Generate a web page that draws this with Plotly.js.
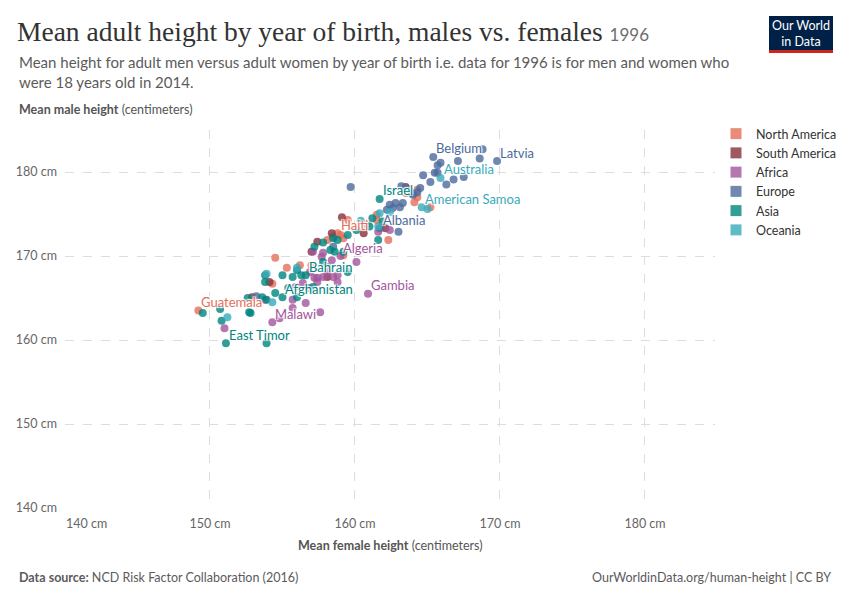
<!DOCTYPE html>
<html>
<head>
<meta charset="utf-8">
<script src="https://cdn.plot.ly/plotly-3.0.1.min.js"></script>
<style>
html, body { margin: 0; padding: 0; background: #fff; }
#chart { width: 850px; height: 600px; }
</style>
</head>
<body>
<div id="chart"></div>
<script>
const continents = ['North America', 'South America', 'Africa', 'Europe', 'Asia', 'Oceania'];
const continentColors = ['#e56e5a', '#883039', '#a2559c', '#4c6a9c', '#00847e', '#38aaba'];

// unlabelled countries: mean female / male height (cm), born 1996
const naFemale = [154.5, 155.3, 157.0, 154.3, 156.2, 158.1, 158.5, 159.0, 159.2, 159.5, 160.8, 161.5, 161.5, 162.3, 163.5, 164.3, 164.1, 165.2, 159.2, 164.3];
const naMale   = [169.8, 168.6, 168.9, 166.7, 168.9, 171.9, 172.3, 172.5, 172.1, 174.3, 173.7, 174.3, 174.9, 171.9, 177.5, 177.0, 176.4, 175.8, 170.1, 177.9];

const saFemale = [154.1, 152.9, 157.4, 157.0, 158.4, 159.1, 160.6, 158.1, 162.1, 163.5];
const saMale   = [166.9, 165.1, 171.7, 170.5, 172.7, 174.6, 172.7, 167.5, 173.3, 178.2];

const afFemale = [160.1, 157.8, 157.4, 158.8, 158.1, 157.4, 158.8, 155.7, 156.6, 157.6, 154.8, 153.8, 151.0, 156.8, 155.7, 157.1, 157.7, 158.4, 158.1, 157.2, 157.8, 158.5, 162.4, 161.6, 156.4, 156.9, 155.9];
const afMale   = [169.3, 170.4, 167.4, 167.7, 168.0, 166.9, 166.9, 164.8, 164.4, 163.3, 162.6, 164.8, 161.4, 166.2, 163.8, 170.5, 169.9, 169.5, 168.7, 167.4, 167.5, 167.5, 173.1, 172.9, 166.8, 168.1, 166.3];

const euFemale = [159.7, 168.6, 167.1, 168.8, 165.7, 165.9, 165.5, 164.7, 165.2, 166.3, 166.8, 167.5, 164.5, 164.3, 164.0, 163.2, 163.6, 162.8, 162.4, 163.3, 163.1, 162.2, 162.6, 163.0, 153.2, 158.5, 165.7, 163.9];
const euMale   = [178.2, 181.6, 181.3, 182.7, 180.8, 181.1, 179.9, 179.6, 178.8, 178.5, 179.1, 179.4, 178.1, 177.6, 177.3, 178.3, 178.0, 176.3, 176.1, 176.3, 175.8, 175.5, 175.7, 172.9, 165.2, 171.1, 179.9, 177.5];

const asFemale = [153.8, 153.8, 154.5, 153.6, 152.6, 152.7, 150.7, 149.5, 150.8, 153.9, 155.0, 155.7, 156.3, 157.2, 156.0, 155.4, 156.0, 157.1, 157.8, 157.8, 158.3, 158.6, 159.2, 158.8, 159.5, 160.1, 161.0, 161.6, 161.2, 161.9, 159.5, 153.9, 158.5, 152.8];
const asMale   = [166.9, 167.7, 165.6, 165.1, 165.0, 163.3, 163.7, 163.2, 162.3, 159.6, 167.7, 167.5, 167.7, 171.1, 165.1, 166.2, 168.3, 166.3, 169.3, 171.6, 170.7, 170.5, 170.5, 171.9, 172.5, 173.1, 173.5, 171.9, 174.5, 174.1, 168.1, 164.8, 172.1, 163.2];

const ocFemale = [153.9, 156.0, 154.3, 151.2, 160.4, 161.6, 161.7, 162.4, 165.0];
const ocMale   = [167.9, 168.6, 164.5, 162.7, 174.2, 173.5, 175.1, 175.2, 175.6];

// labelled countries
const labelNames      = ['Latvia', 'Belgium', 'Australia', 'American Samoa', 'Israel', 'Albania', 'Haiti', 'Algeria', 'Bahrain', 'Afghanistan', 'Gambia', 'Malawi', 'Guatemala', 'East Timor'];
const labelContinents = ['Europe', 'Europe', 'Oceania', 'Oceania', 'Asia', 'Europe', 'North America', 'Africa', 'Asia', 'Asia', 'Africa', 'Africa', 'North America', 'Asia'];
const labelFemale     = [169.8, 165.4, 165.9, 164.6, 161.7, 161.7, 158.8, 159.0, 156.6, 155.0, 160.9, 154.3, 149.2, 151.1];
const labelMale       = [181.3, 181.8, 179.3, 175.8, 176.8, 173.3, 172.7, 170.0, 167.7, 165.1, 165.5, 162.1, 163.5, 159.6];

const tickVals = [140, 150, 160, 170, 180];
const tickText = ['140 cm', '150 cm', '160 cm', '170 cm', '180 cm'];

const femaleByContinent = [naFemale, saFemale, afFemale, euFemale, asFemale, ocFemale];
const maleByContinent = [naMale, saMale, afMale, euMale, asMale, ocMale];

// pixel -> paper helpers for the text around the plot
const PLOT = { l: 65, r: 715, t: 130, b: 508 };
const px = x => (x - PLOT.l) / (PLOT.r - PLOT.l);
const py = y => (PLOT.b - y) / (PLOT.b - PLOT.t);

const traces = [];
continents.forEach((c, i) => {
    const xs = femaleByContinent[i].slice();
    const ys = maleByContinent[i].slice();
    labelNames.forEach((n, j) => {
        if (labelContinents[j] === c) { xs.push(labelFemale[j]); ys.push(labelMale[j]); }
    });
    traces.push({
        type: 'scatter', mode: 'markers', x: xs, y: ys, name: c,
        marker: { size: 8, color: continentColors[i], opacity: 0.8 },
        showlegend: false, hoverinfo: 'skip'
    });
});
// legend entries with square swatches
continents.forEach((c, i) => {
    traces.push({
        type: 'scatter', mode: 'markers', x: [null], y: [null], name: c,
        marker: { size: 11, symbol: 'square', color: continentColors[i], opacity: 0.8 },
        showlegend: true
    });
});

const font = 'Lato, sans-serif';
const halo = '1px 1px 1px #fff, -1px -1px 1px #fff, 1px -1px 1px #fff, -1px 1px 1px #fff';
const annotations = labelNames.map((n, j) => ({
    x: labelFemale[j], y: labelMale[j], xref: 'x', yref: 'y',
    text: n, showarrow: false, xanchor: 'left', yanchor: 'middle',
    xshift: 1, yshift: 8.5,
    font: { family: font, size: 13, shadow: halo, color: continentColors[continents.indexOf(labelContinents[j])] }
}));

const txt = (text, x, y, size, color, anchor, extra) => Object.assign({
    text: text, x: px(x), y: py(y), xref: 'paper', yref: 'paper',
    showarrow: false, xanchor: anchor || 'left', yanchor: 'middle',
    font: { family: font, size: size, color: color }
}, extra || {});

annotations.push(
    txt('Mean adult height by year of birth, males vs. females <span style="font-family:Lato;font-size:17px;color:#6e6e6e">1996</span>',
        15, 32, 27.5, '#333333', 'left', { font: { family: 'Liberation Serif, serif', size: 27.5, color: '#333333' } }),
    txt('Mean height for adult men versus adult women by year of birth i.e. data for 1996 is for men and women who<br>were 18 years old in 2014.',
        17, 72, 15, '#5b5b5b', 'left', { align: 'left' }),
    txt('<b>Mean male height</b> (centimeters)', 17, 110, 12.5, '#555555'),
    txt('<b>Mean female height</b> (centimeters)', 390, 545, 12.5, '#555555', 'center'),
    txt('140 cm', 64, 523, 12.5, '#666666'),
    txt('<b>Data source:</b> NCD Risk Factor Collaboration (2016)', 17, 577, 12.5, '#5b5b5b'),
    txt('OurWorldinData.org/human-height | CC BY', 833, 577, 12.5, '#5b5b5b', 'right'),
    txt('Our World<br>in Data', 801, 33, 12.5, '#ffffff', 'center', { align: 'center' })
);

const layout = {
    width: 850, height: 600,
    margin: { l: PLOT.l, r: 850 - PLOT.r, t: PLOT.t, b: 600 - PLOT.b, autoexpand: false },
    paper_bgcolor: '#ffffff', plot_bgcolor: '#ffffff',
    font: { family: font, color: '#666666' },
    xaxis: {
        range: [140, 184.83], tickvals: tickVals, ticktext: ['', ...tickText.slice(1)],
        showgrid: true, gridcolor: '#dddddd', griddash: 'dash', gridwidth: 1,
        zeroline: false, showline: false, ticks: '', ticklabelstandoff: 6,
        tickfont: { family: font, size: 12.5, color: '#666666' }
    },
    yaxis: {
        range: [140, 185], tickvals: tickVals, ticktext: tickText,
        showgrid: true, gridcolor: '#dddddd', griddash: 'dash', gridwidth: 1,
        zeroline: false, showline: false, ticks: '', ticklabelstandoff: 7,
        tickfont: { family: font, size: 12.5, color: '#666666' }
    },
    legend: {
        x: px(716), y: py(119), xanchor: 'left', yanchor: 'top',
        font: { family: font, size: 12.5, color: '#333333' },
        itemwidth: 30, tracegroupgap: 0, bgcolor: 'rgba(0,0,0,0)'
    },
    shapes: [
        { type: 'rect', xref: 'paper', yref: 'paper', x0: px(769), x1: px(833), y0: py(51), y1: py(16), fillcolor: '#002147', line: { width: 0 } },
        { type: 'rect', xref: 'paper', yref: 'paper', x0: px(769), x1: px(833), y0: py(53), y1: py(50), fillcolor: '#ce261e', line: { width: 0 } }
    ],
    annotations: annotations,
    showlegend: true
};

Plotly.newPlot('chart', traces, layout, { displayModeBar: false, staticPlot: true });
</script>
</body>
</html>
